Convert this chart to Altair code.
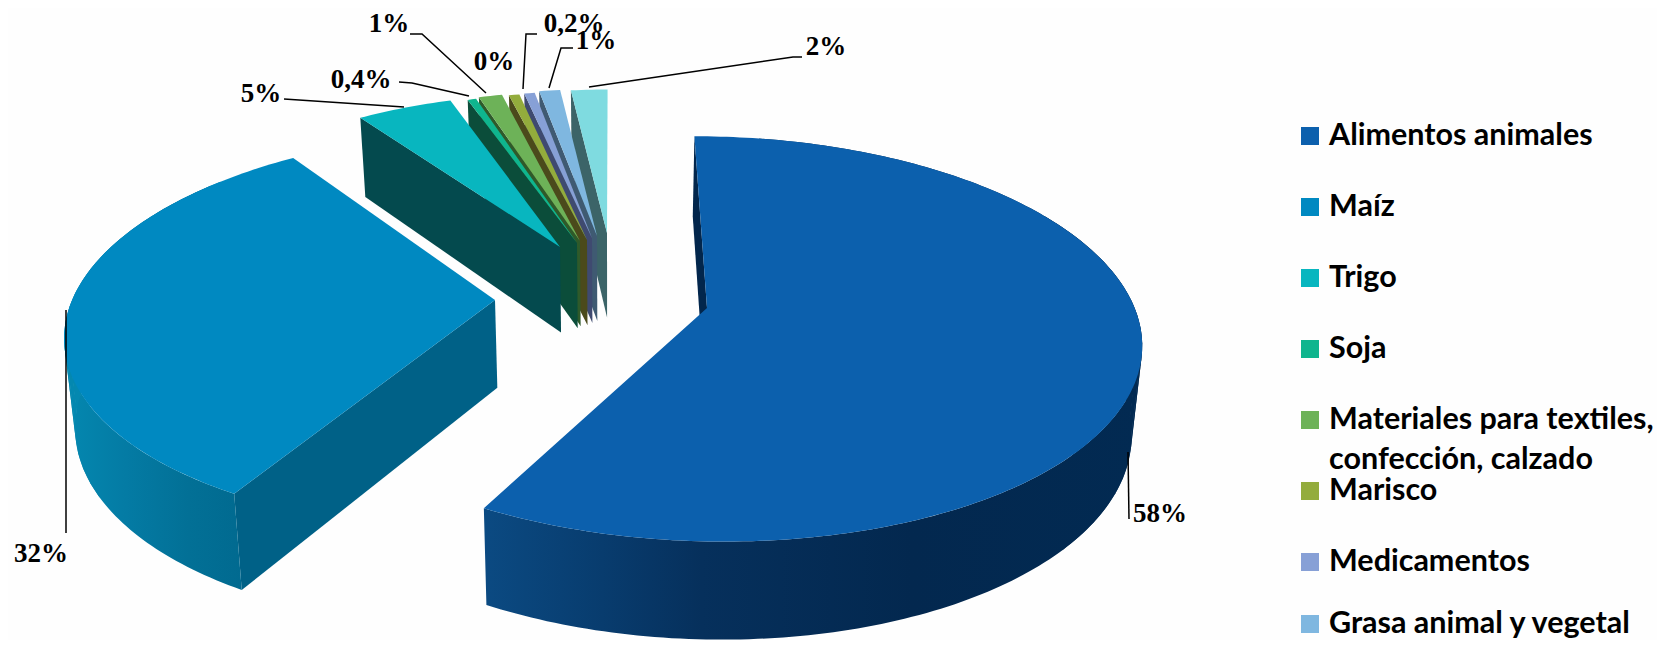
import math
import altair as alt
import pandas as pd

# ---- values
categories = ["Alimentos animales", "Maíz", "Trigo", "Soja", "Materiales para textiles,",
              "Marisco", "Medicamentos", "Grasa animal y vegetal"]
second_line = "confección, calzado"
shares = [58, 32, 4.5, 0.4, 1.1, 0.5, 0.5, 1.0, 2.0]
value_labels = ["58%", "32%", "5%", "0,4%", "1%", "0%", "0,2%", "1%", "2%"]

# ---- styles
top_colors = ["#0c60ad", "#0089c1", "#08b6bf", "#0fb58e", "#6db258", "#93ac3c", "#87a0d6", "#7fb7e0", "#7fdbe0"]
wall_colors = ["#02264c", "#006187", "#044a4e", "#0b4d3a", "#2f5a2a", "#4b4a1b", "#3f4a70", "#3f5a72", "#3c6468"]

# ---- layout: perspective of the pie
W, H = 1649, 632
CX, CY, A, B, K = 612.0, 303.0, 196.4, 426.0, 0.152
DEPTH, KW, SHRINK = 88.0, 0.1, 0.98
apex_px = [(707, 308), (495, 300), (560, 247), (577, 243), (580, 241), (587, 240), (592, 238), (597, 236), (607, 233)]
radii = [1.0, 0.995, 0.98, 0.96, 0.96, 0.95, 0.945, 0.945, 0.925]
# perspective makes the exploded slices look turned a little
turn_start = [0, 1.2, 1, 0.6, 0.6, 0.6, 0.6, 0.6, 0.8]
turn_end = [0, 1.2, 0.6, 0.6, 0.6, 0.6, 0.6, 0.6, 0]


def project(X, Y):
    d = 1 - K * Y
    return CX + B * X / d, CY + A * Y / d


def unproject(px, py):
    v = (py - CY) / A
    Y = v / (1 + K * v)
    return (px - CX) / B * (1 - K * Y), Y


def drop(X, Y):
    x, y = project(X, Y)
    return CX + (x - CX) * SHRINK, y + DEPTH / (1 - KW * Y)


def rim(c, r, deg):
    t = math.radians(deg)
    return c[0] + r * math.sin(t), c[1] - r * math.cos(t)


def feature(points, color):
    ring = [[round(p[0] - 8, 2), round(p[1] - 8, 2)] for p in points]
    ring.append(ring[0])
    return {"type": "Feature", "properties": {"fill": color},
            "geometry": {"type": "Polygon", "coordinates": [ring]}}


total = sum(shares)
edges = [0.0]
for s in shares:
    edges.append(edges[-1] + s / total * 360)
starts = [edges[i] + turn_start[i] for i in range(len(shares))]
ends = [edges[i + 1] + turn_end[i] for i in range(len(shares))]


def arc(c, r, lo, hi, step=1.0):
    n = max(2, int(abs(hi - lo) / step) + 1)
    return [rim(c, r, lo + (hi - lo) * k / n) for k in range(n + 1)]


centers = [unproject(*p) for p in apex_px]


def wall(i, deg):
    c, e = centers[i], rim(centers[i], radii[i], deg)
    return feature([project(*c), project(*e), drop(*e), drop(*c)], wall_colors[i])


def top(i):
    c = centers[i]
    return feature([project(*c)] + [project(*p) for p in arc(c, radii[i], starts[i], ends[i])], top_colors[i])


def silhouette(i, lo, hi, color):
    # narrow pieces of curved wall: they fill the tangent between the top and bottom rims
    out = []
    for d in range(lo, hi, 4):
        p, q = rim(centers[i], radii[i], d), rim(centers[i], radii[i], d + 4)
        out.append(feature([project(*p), project(*q), drop(*q), drop(*p)], color))
    return out


back = []
for i in range(8, 1, -1):
    back.append(wall(i, starts[i]))
    back.append(top(i))
back.append(wall(1, starts[1]))
back.append(wall(0, starts[0]))
back += silhouette(0, 60, 130, "#022a52")
back += silhouette(1, 240, 310, "#0488b0")
front = [top(1), top(0)]


def rim_feature(i, lo, hi):
    pts = arc(centers[i], radii[i], lo, hi)
    return feature([project(*p) for p in pts] + [drop(*p) for p in reversed(pts)], "rim")


def gradient(stops):
    return alt.Gradient(gradient="linear", x1=0, x2=1, y1=0, y2=0,
                        stops=[alt.GradientStop(offset=o, color=c) for o, c in stops])


identity = dict(type="identity", scale=1, translate=[0, 0])
x_scale = alt.Scale(domain=[8, W + 8], range=[0, W])
y_scale = alt.Scale(domain=[8, H + 8], range=[0, H])
X = alt.X("x:Q", scale=x_scale, axis=None)
Y = alt.Y("y:Q", scale=y_scale, axis=None)

pie_back = (
    alt.Chart(alt.Data(values=back))
    .mark_geoshape(strokeWidth=0)
    .encode(fill=alt.Fill("properties.fill:N", scale=None))
    .project(**identity)
)
rim_maiz = (
    alt.Chart(alt.Data(values=[rim_feature(1, starts[1], 310)]))
    .mark_geoshape(strokeWidth=0, fill=gradient([(0, "#0488b0"), (0.35, "#047ba4"), (0.7, "#027096"), (1, "#016a90")]))
    .project(**identity)
)
rim_blue = (
    alt.Chart(alt.Data(values=[rim_feature(0, 10, ends[0])]))
    .mark_geoshape(strokeWidth=0, fill=gradient([(0, "#0b4a82"), (0.18, "#083c6e"), (0.33, "#06305c"), (0.65, "#03284f"), (1, "#022a52")]))
    .project(**identity)
)
pie_front = (
    alt.Chart(alt.Data(values=front))
    .mark_geoshape(strokeWidth=0)
    .encode(fill=alt.Fill("properties.fill:N", scale=None))
    .project(**identity)
)

# leader lines
leader_paths = [
    [(1128, 452), (1129, 519)],
    [(66, 310), (66, 533)],
    [(284, 99), (404, 107)],
    [(399, 82), (412, 83), (469, 96)],
    [(410, 34), (422, 34), (486, 93)],
    [(537, 34), (526, 34), (523, 89)],
    [(573, 48), (561, 48), (549, 88)],
    [(802, 57), (793, 57), (589, 87)],
]
leader_rows = [{"id": j, "n": n, "x": p[0], "y": p[1]}
               for j, path in enumerate(leader_paths) for n, p in enumerate(path)]
leaders = (
    alt.Chart(pd.DataFrame(leader_rows))
    .mark_line(color="black", strokeWidth=1.5)
    .encode(x=X, y=Y, detail="id:N", order="n:Q")
)

# value labels
label_pos = [(1160, 514), (41, 554), (261, 94), (361, 80), (389, 24), (494, 62), (574, 24), (596, 41), (826, 47)]
label_df = pd.DataFrame({"t": value_labels, "x": [p[0] for p in label_pos], "y": [p[1] for p in label_pos]})
labels = (
    alt.Chart(label_df)
    .mark_text(font="Liberation Serif", fontWeight="bold", fontSize=27, align="center", baseline="middle", color="black")
    .encode(x=X, y=Y, text="t:N")
)

# legend, drawn by hand because of its uneven two-line entry; the last row sits
# just high enough for its descenders to stay on the page
legend_y = [145, 216, 287, 358, 429, 500, 571, 633]
leg_df = pd.DataFrame({"t": categories, "x": [1329] * len(categories), "y": legend_y,
                       "sx": [1310] * len(categories), "sy": [v - 9 for v in legend_y],
                       "c": top_colors[:len(categories)]})
squares = (
    alt.Chart(leg_df)
    .mark_square(size=324, opacity=1)
    .encode(x=alt.X("sx:Q", scale=x_scale, axis=None), y=alt.Y("sy:Q", scale=y_scale, axis=None),
            fill=alt.Fill("c:N", scale=None), stroke=alt.value(None))
)
legend_font = dict(font="Lato", fontWeight="bold", fontSize=30.5, align="left", baseline="alphabetic", color="black")
leg_text = alt.Chart(leg_df).mark_text(**legend_font).encode(x=X, y=Y, text="t:N")
leg_text2 = (
    alt.Chart(pd.DataFrame({"t": [second_line], "x": [1329], "y": [469]}))
    .mark_text(**legend_font)
    .encode(x=X, y=Y, text="t:N")
)

chart = (
    alt.layer(pie_back, rim_maiz, rim_blue, pie_front, leaders, labels, squares, leg_text, leg_text2)
    .properties(width=W, height=H, background="#fefefe", padding=0,
                autosize=alt.AutoSizeParams(type="none"))
    .configure_view(strokeWidth=0)
)
chart.save("out.html", embed_options={"renderer": "svg", "actions": False})
